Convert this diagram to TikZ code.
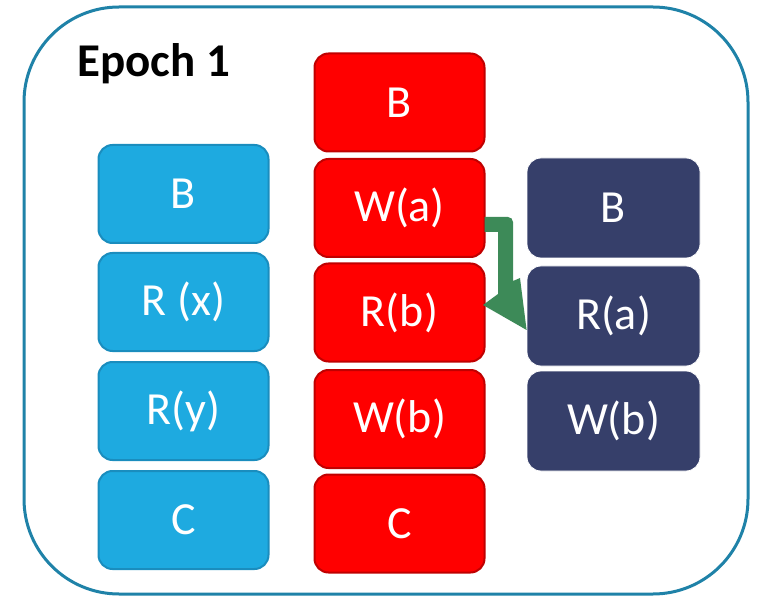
\documentclass[tikz,border=0pt]{standalone}
\usepackage{fontspec}
\setmainfont{Carlito}
\begin{document}
\definecolor{frame}{HTML}{1F82A8}
\definecolor{cyanfill}{HTML}{1EAAE0}
\definecolor{cyanedge}{HTML}{1A8DBE}
\definecolor{redfill}{HTML}{FF0000}
\definecolor{rededge}{HTML}{C00000}
\definecolor{navyfill}{HTML}{363F6A}
\definecolor{arrowgreen}{HTML}{3D8A58}
\begin{tikzpicture}[x=1pt,y=-1pt,
  opbox/.style={rounded corners=14pt, line width=2pt, minimum width=170pt,
    minimum height=98pt, text=white, font=\fontsize{46}{50}\selectfont, inner sep=0pt},
  cyanbox/.style={opbox, fill=cyanfill, draw=cyanedge},
  redbox/.style={opbox, fill=redfill, draw=rededge},
  navybox/.style={opbox, fill=navyfill, draw=white, line width=0.8pt, minimum width=173pt, minimum height=100pt}]
\useasboundingbox (0,0) rectangle (761,596);
% outer frame
\draw[frame, line width=3pt, rounded corners=95pt] (24,7) rectangle (748,594);
\node[anchor=base west, font=\bfseries\fontsize{47}{50}\selectfont] (title) at (74,77) {Epoch 1};
% left column
\node[cyanbox] (lb) at (183.5,194) {B};
\node[cyanbox] (lrx) at (183.5,302) {R (x)};
\node[cyanbox] (lry) at (183.5,411) {R(y)};
\node[cyanbox] (lc) at (183.5,520) {C};
% middle column
\node[redbox] (mb) at (399.5,102.5) {B};
\node[redbox] (mwa) at (399.5,208) {W(a)};
\node[redbox] (mrb) at (399.5,312.5) {R(b)};
\node[redbox] (mwb) at (399.5,419) {W(b)};
\node[redbox] (mc) at (399.5,523.5) {C};
% right column
\node[navybox] (rb) at (613.5,208) {B};
\node[navybox] (rra) at (613.5,316) {R(a)};
\node[navybox] (rwb) at (613.5,421) {W(b)};
% bent dependency arrow from W(a) to R(a)
\fill[arrowgreen] ([xshift=-1pt,yshift=-9pt]mwa.east) -- (508,217)
  to[out=0,in=90] (513,222) -- (513,281) -- (520,278) -- (rra.west |- 0,330) -- (483,305)
  -- (498,294) -- (498,232) -- ([xshift=-1pt,yshift=-24pt]mwa.east) -- cycle;
\end{tikzpicture}
\end{document}
